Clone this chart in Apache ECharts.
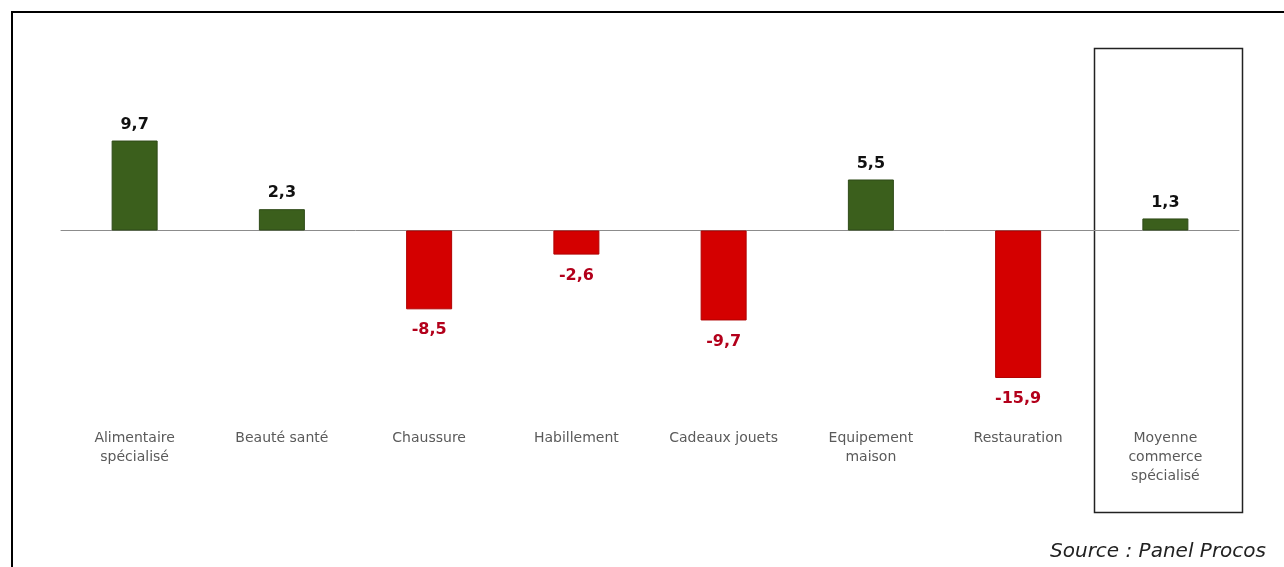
<!DOCTYPE html>
<html><head><meta charset="utf-8">
<script src="https://cdn.jsdelivr.net/npm/echarts@6/dist/echarts.min.js"></script>
<style>html,body{margin:0;padding:0;background:#fff}#c{width:1284px;height:567px}</style>
</head><body><div id="c"></div>
<script>
const categories = ['Alimentaire\nspécialisé','Beauté santé','Chaussure','Habillement','Cadeaux jouets','Equipement\nmaison','Restauration','Moyenne\ncommerce\nspécialisé'];
const values = [9.7, 2.3, -8.5, -2.6, -9.7, 5.5, -15.9, 1.3];
const sourceText = 'Source : Panel Procos';

const GREEN = '#3b5f1c', RED = '#d40000', NEG_LABEL = '#b3001b';
const data = values.map(v => ({
  value: v,
  itemStyle: { color: v >= 0 ? GREEN : RED, borderColor: v >= 0 ? '#2f4a18' : '#b00000', borderWidth: 1 },
  label: { position: v >= 0 ? 'top' : 'bottom', distance: v >= 0 ? 8 : 13, color: v >= 0 ? '#111' : NEG_LABEL }
}));

const chart = echarts.init(document.getElementById('c'));
chart.setOption({
  animation: false,
  backgroundColor: '#fff',
  grid: { left: 61, width: 1178, top: 45, height: 371 },
  xAxis: {
    type: 'category', data: categories,
    axisLine: { onZero: true, lineStyle: { color: '#8c8c8c', width: 1 } },
    axisTick: { show: false },
    axisLabel: { interval: 0, margin: 13, color: '#5a5a5a', fontFamily: 'DejaVu Sans', fontSize: 14, lineHeight: 19 }
  },
  yAxis: { type: 'value', min: -20, max: 20, show: false, splitLine: { show: false } },
  series: [{
    type: 'bar', data: data, barWidth: 46,
    label: { show: true, fontFamily: 'DejaVu Sans', fontWeight: 'bold', fontSize: 16,
      formatter: p => String(p.value).replace('.', ',') }
  }],
  graphic: [
    { type: 'polyline', shape: { points: [[12, 567], [12, 12], [1284, 12]] }, style: { stroke: '#000', lineWidth: 2, fill: null } },
    { type: 'rect', shape: { x: 1094.5, y: 48.5, width: 148, height: 464 }, style: { stroke: '#222', lineWidth: 1.5, fill: null } },
    { type: 'text', right: 18, top: 542, style: { text: sourceText, font: 'italic 20px "DejaVu Sans"', fill: '#222' } }
  ]
});
</script></body></html>
